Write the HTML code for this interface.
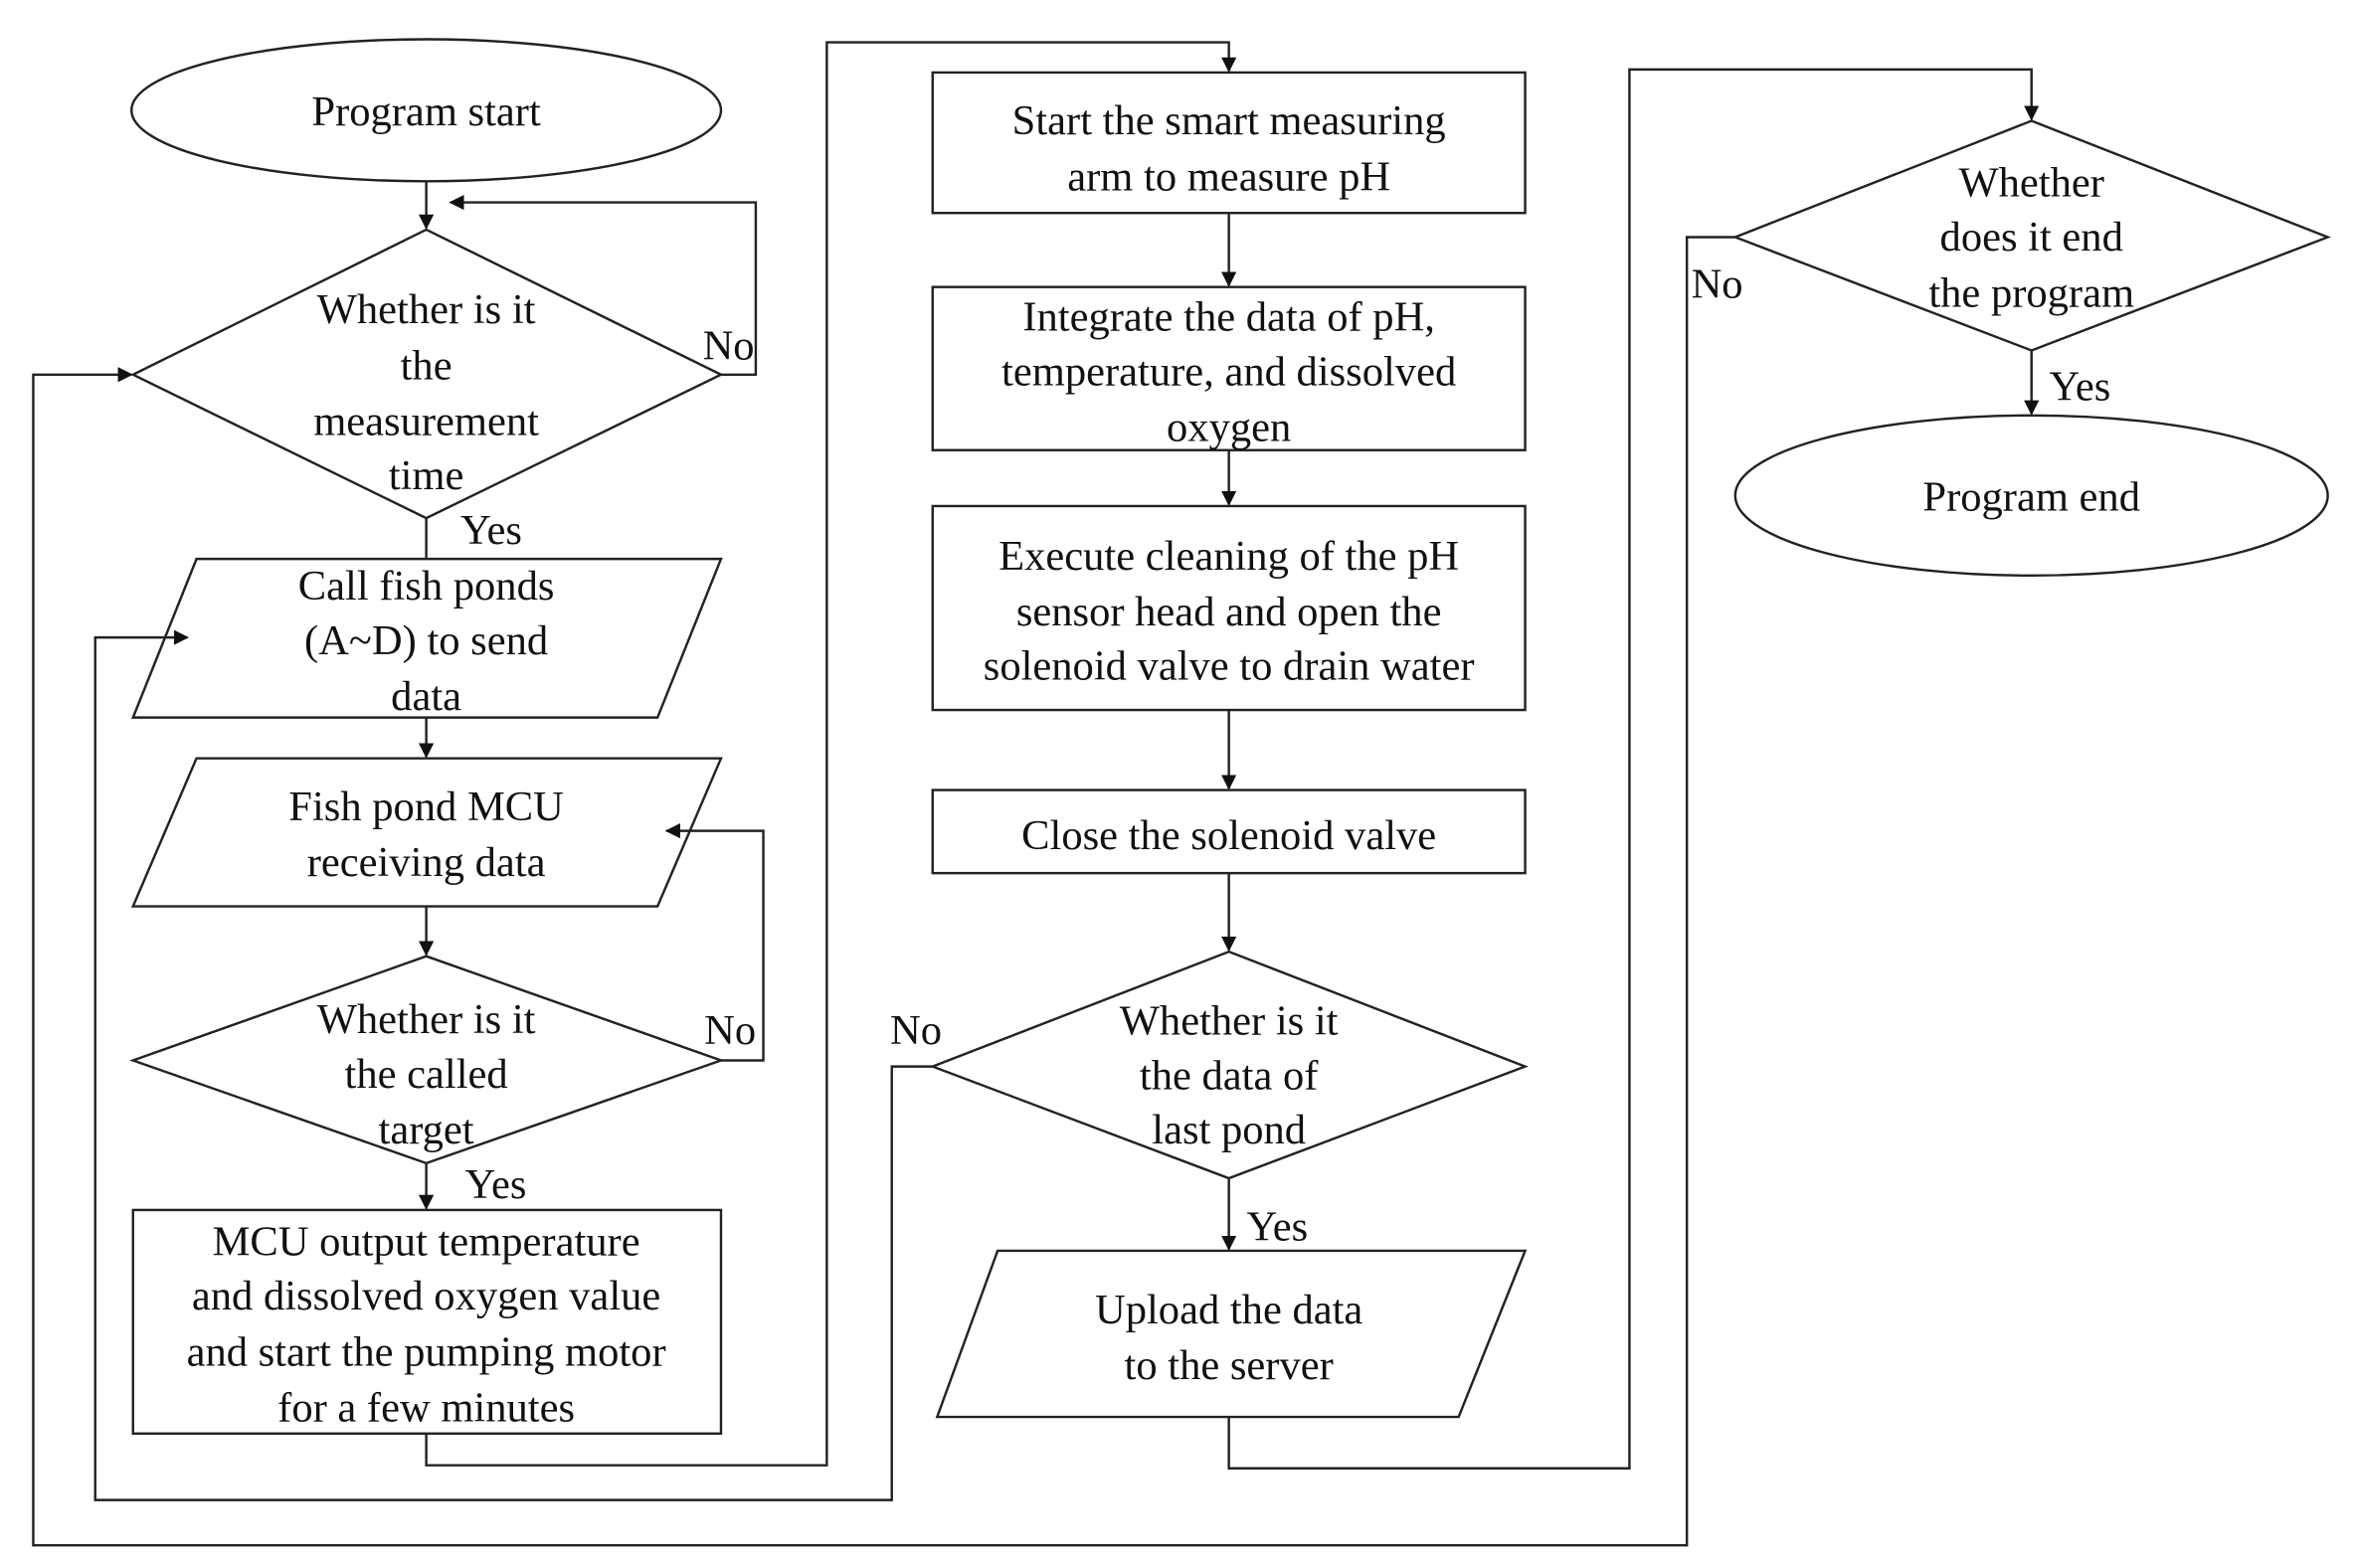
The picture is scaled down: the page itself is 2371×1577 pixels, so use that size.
<!DOCTYPE html>
<html><head><meta charset="utf-8"><style>
html,body{margin:0;padding:0;background:#fff;}
svg{display:block;}
text{font-family:"Liberation Serif",serif;font-size:28px;fill:#111;text-anchor:middle;}
.s{fill:none;stroke:#222;stroke-width:1.6;}
</style></head><body>
<svg width="2371" height="1577" viewBox="0 0 1560 1038" preserveAspectRatio="none" xmlns="http://www.w3.org/2000/svg">
<defs><marker id="a" markerWidth="10" markerHeight="10" refX="9" refY="5" orient="auto" markerUnits="userSpaceOnUse"><path d="M0,0 L10,5 L0,10 z" fill="#111"/></marker></defs>
<rect width="1560" height="1038" fill="#fff"/>
<!-- column 1 -->
<ellipse class="s" cx="282" cy="73" rx="195" ry="47"/>
<text x="282" y="83">Program start</text>
<path class="s" d="M282,120 V151" marker-end="url(#a)"/>
<path class="s" d="M477,248 H500 V134 H298" marker-end="url(#a)"/>
<polygon class="s" points="282,152 477,248 282,343 88,248"/>
<text x="282" y="214">Whether is it</text>
<text x="282" y="251">the</text>
<text x="282" y="288">measurement</text>
<text x="282" y="324">time</text>
<text x="482" y="238">No</text>
<text x="325" y="360">Yes</text>
<path class="s" d="M282,343 V370"/>
<polygon class="s" points="130,370 477,370 435,475 88,475"/>
<text x="282" y="397">Call fish ponds</text>
<text x="282" y="433">(A~D) to send</text>
<text x="282" y="470">data</text>
<path class="s" d="M282,475 V501" marker-end="url(#a)"/>
<polygon class="s" points="130,502 477,502 435,600 88,600"/>
<text x="282" y="543">Fish pond MCU</text>
<text x="282" y="580">receiving data</text>
<path class="s" d="M282,600 V632" marker-end="url(#a)"/>
<polygon class="s" points="282,633 477,702 282,770 88,702"/>
<text x="282" y="684">Whether is it</text>
<text x="282" y="720">the called</text>
<text x="282" y="757">target</text>
<text x="483" y="691">No</text>
<text x="328" y="793">Yes</text>
<path class="s" d="M477,702 H505 V550 H441" marker-end="url(#a)"/>
<path class="s" d="M282,770 V800" marker-end="url(#a)"/>
<rect class="s" x="88" y="801" width="389" height="148"/>
<text x="282" y="831">MCU output temperature</text>
<text x="282" y="867">and dissolved oxygen value</text>
<text x="282" y="904">and start the pumping motor</text>
<text x="282" y="941">for a few minutes</text>
<path class="s" d="M282,949 V970 H547 V28 H813 V47" marker-end="url(#a)"/>
<!-- column 2 -->
<rect class="s" x="617" y="48" width="392" height="93"/>
<text x="813" y="89">Start the smart measuring</text>
<text x="813" y="126">arm to measure pH</text>
<path class="s" d="M813,141 V189" marker-end="url(#a)"/>
<rect class="s" x="617" y="190" width="392" height="108"/>
<text x="813" y="219">Integrate the data of pH,</text>
<text x="813" y="255">temperature, and dissolved</text>
<text x="813" y="292">oxygen</text>
<path class="s" d="M813,298 V334" marker-end="url(#a)"/>
<rect class="s" x="617" y="335" width="392" height="135"/>
<text x="813" y="377">Execute cleaning of the pH</text>
<text x="813" y="414">sensor head and open the</text>
<text x="813" y="450">solenoid valve to drain water</text>
<path class="s" d="M813,470 V522" marker-end="url(#a)"/>
<rect class="s" x="617" y="523" width="392" height="55"/>
<text x="813" y="562">Close the solenoid valve</text>
<path class="s" d="M813,578 V629" marker-end="url(#a)"/>
<polygon class="s" points="813,630 1009,706 813,780 617,706"/>
<text x="813" y="685">Whether is it</text>
<text x="813" y="721">the data of</text>
<text x="813" y="757">last pond</text>
<text x="606" y="691">No</text>
<text x="845" y="821">Yes</text>
<path class="s" d="M617,706 H590 V993 H63 V422 H124" marker-end="url(#a)"/>
<path class="s" d="M813,780 V827" marker-end="url(#a)"/>
<polygon class="s" points="660,828 1009,828 965,938 620,938"/>
<text x="813" y="876">Upload the data</text>
<text x="813" y="913">to the server</text>
<path class="s" d="M813,938 V972 H1078 V46 H1344 V79" marker-end="url(#a)"/>
<!-- column 3 -->
<polygon class="s" points="1344,80 1540,157 1344,232 1148,157"/>
<text x="1344" y="130">Whether</text>
<text x="1344" y="166">does it end</text>
<text x="1344" y="203">the program</text>
<text x="1136" y="197">No</text>
<text x="1376" y="265">Yes</text>
<path class="s" d="M1148,157 H1116 V1023 H22 V248 H87" marker-end="url(#a)"/>
<path class="s" d="M1344,232 V274" marker-end="url(#a)"/>
<ellipse class="s" cx="1344" cy="328" rx="196" ry="53"/>
<text x="1344" y="338">Program end</text>
</svg>
</body></html>
